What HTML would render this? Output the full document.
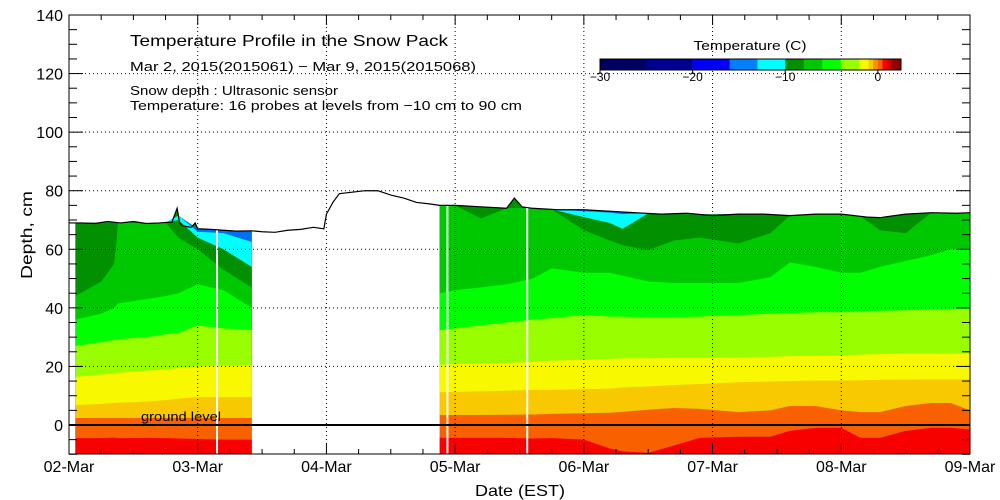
<!DOCTYPE html>
<html><head><meta charset="utf-8"><style>
html,body{margin:0;padding:0;background:#fff;}
svg{display:block;font-family:"Liberation Sans","DejaVu Sans",sans-serif;}
</style></head><body>
<svg id="chart" width="1000" height="500" viewBox="0 0 1000 500" xmlns="http://www.w3.org/2000/svg">
<g id="plot"></g>
<g id="axes"></g>
<text x="130" y="46" font-size="16" textLength="318" lengthAdjust="spacingAndGlyphs">Temperature Profile in the Snow Pack</text>
<text x="130" y="71" font-size="13" textLength="346" lengthAdjust="spacingAndGlyphs">Mar  2, 2015(2015061) − Mar  9, 2015(2015068)</text>
<text x="130" y="95" font-size="13" textLength="208" lengthAdjust="spacingAndGlyphs">Snow depth : Ultrasonic sensor</text>
<text x="130" y="110" font-size="13" textLength="392" lengthAdjust="spacingAndGlyphs">Temperature: 16 probes at levels from −10 cm to 90 cm</text>
<text x="32" y="235" font-size="16" text-anchor="middle" transform="rotate(-90 32 235)" textLength="88" lengthAdjust="spacingAndGlyphs">Depth, cm</text>
<text x="520" y="496" font-size="16" text-anchor="middle" textLength="90" lengthAdjust="spacingAndGlyphs">Date (EST)</text>
<text x="141" y="421" font-size="13" textLength="80" lengthAdjust="spacingAndGlyphs">ground level</text>
<g id="cbar"></g>
</svg>
<script>
// ---- data ----
const dayLabels = ["02-Mar","03-Mar","04-Mar","05-Mar","06-Mar","07-Mar","08-Mar","09-Mar"];
const yTicks = [140,120,100,80,60,40,20,0];
const surfT = [0,0.1,0.2,0.3,0.4,0.5,0.6,0.7,0.8,0.84,0.86,0.88,0.95,0.98,1.0,1.1,1.2,1.3,1.42,1.5,1.6,1.7,1.8,1.9,1.98,2.0,2.05,2.1,2.2,2.3,2.4,2.5,2.6,2.7,2.8,2.88,3.0,3.2,3.4,3.46,3.49,3.52,3.6,3.8,4.0,4.2,4.4,4.6,4.8,5.0,5.2,5.4,5.6,5.8,6.0,6.2,6.3,6.5,6.7,6.9,7.0];
const surfV = [69,69,68.8,69.5,69,69.5,68.8,69,69.3,74,69,68,67.5,69,67,66.8,66.5,66.2,66.3,66,65.8,66.5,66.8,67.5,67,72,76,79,79.5,80,80,78.5,77.5,76,75.5,75,75,74.5,74,77.5,76,74.5,74,73.5,73.5,73,72.5,72,72.3,71.5,72,72,71.5,72,72,71,70.8,72,72.5,72.3,72.5];
const segT = [
 [0.05,0.25,0.35,0.37,0.38,0.6,0.75,0.85,1.0,1.2,1.42],
 [2.88,3.0,3.2,3.4,3.6,3.75,4.0,4.2,4.3,4.5,4.7,4.9,5.2,5.45,5.6,5.8,6.0,6.15,6.3,6.5,6.7,6.85,7.0]
];
const bandColors = ["#0070f0","#00ffff","#009000","#00c800","#00ff00","#99ff00","#f8f800","#f8c800","#f86000","#f80000"];
const blueTop = [[99,99,99,99,99,99,99,99,99,99,99],[99,99,99,99,99,99,99,99,99,99,99,99,99,99,99,99,99,99,99,99,99,99,99]];
const cyanTop = [[99,99,99,99,99,99,99,99,66,65.5,62.5],[99,99,99,99,99,99,73,72.5,72,99,99,99,99,99,99,99,99,99,99,99,99,99,99]];
const dgreenTop = [[99,99,99,99,99,99,99,70,64,60,54],[99,99,99,99,99,99,71,69,67,99,99,99,99,99,99,99,99,99,99,99,99,99,99]];
const mgreenTop = [[44,49,55,63,99,99,99,64,60,53,47],[99,99,70.5,99,99,99,66.5,63,61.4,59.7,63,64,62,65.5,99,99,99,99,66.5,65.5,99,99,99]];
const greenTop = [[36,38,40,41,41.5,43,44,45,48,46,40],[45,46,47,48,50,53.5,52,52,51,49,48.5,48.5,48.5,50.5,55.5,54,52,52,54,56,58,60,60]];
const limeTop = [[27,28.3,29,29.2,29.3,30,31,31.4,34,33,32.4],[32.4,33,34,35,36,36.5,37.5,37,37,36.8,36.8,37,37.5,38,38.2,38.5,38.5,38.7,39,39.2,39.5,39.6,39.6]];
const yellowTop = [[16.4,17.2,17.7,17.8,17.9,18.5,19,19.5,20,20.3,20.5],[20.5,20.8,21,21.2,21.5,22,22.3,22.5,22.8,22.8,23,23,23.2,23.3,23.5,23.6,23.8,24,24.2,24.4,24.4,24.4,24.4]];
const orangeYTop = [[6.8,7.2,7.5,7.6,7.6,8,8.5,9,9.5,9.5,9.5],[11.2,11.3,11.5,11.7,12,12,12.2,12.4,12.8,13.2,13.6,14,14.6,14.8,15,15.2,15.2,15.3,15.4,15.5,15.6,15.6,15.6]];
const orangeTop = [[2.4,2.4,2.4,2.4,2.4,2.4,2.4,2.4,2.4,2.4,2.4],[3.4,3.4,3.4,3.5,3.6,3.8,4,4.2,4.5,5.2,5.8,5.5,4.4,5,6.5,6.5,5,4.4,4.4,6.5,7.5,7.5,5]];
const redTop = [[-4.5,-4.5,-4.3,-4.4,-4.5,-4.4,-4.5,-4.6,-4.8,-5,-5],[-4.4,-4.4,-4.4,-4.4,-4.6,-4.5,-5,-8,-9,-9.5,-7,-4.4,-4,-4,-2,-1,-1,-4.4,-4.4,-2,-1,-1,-1.5]];
const bands = [blueTop,cyanTop,dgreenTop,mgreenTop,greenTop,limeTop,yellowTop,orangeYTop,orangeTop,redTop];
const gapDays = [1.15,2.94,3.56];
const cbBounds = [-30,-25,-20,-16,-13,-10,-8,-6,-4,-2,-1,-0.5,0,0.5,1,1.5,2.5];
const cbColors = ["#000060","#000090","#0000f8","#0080ff","#00ffff","#009000","#00c800","#00ff00","#99ff00","#f8f800","#f8c800","#f89000","#f86000","#f80000","#c80000","#900000"];
const cbTicks = [-30,-20,-10,0];

// ---- scales ----
const X0=69,X1=970,Y0=15,Y1=454;
const xs = d => X0 + d*(X1-X0)/7;
const ys = v => 425 - v*(410/140);
const NS="http://www.w3.org/2000/svg";
function mk(tag, parent, attrs){const e=document.createElementNS(NS,tag);for(const k in attrs)e.setAttribute(k,attrs[k]);parent.appendChild(e);return e;}
function surfAt(t){for(let i=1;i<surfT.length;i++){if(t<=surfT[i]){const f=(t-surfT[i-1])/(surfT[i]-surfT[i-1]);return surfV[i-1]+f*(surfV[i]-surfV[i-1]);}}return surfV[surfV.length-1];}
const plot=document.getElementById('plot');

segT.forEach((ts,si)=>{
  const t0=ts[0],t1=ts[ts.length-1];
  let pts=[[xs(t0),ys(-10)],[xs(t0),ys(surfAt(t0))]];
  surfT.forEach((t,i)=>{if(t>t0&&t<t1)pts.push([xs(t),ys(surfV[i])]);});
  pts.push([xs(t1),ys(surfAt(t1))],[xs(t1),ys(-10)]);
  const base=mk('polygon',plot,{points:pts.map(p=>p.join(',')).join(' '),fill:'#009000'});
  
  
  bands.forEach((b,bi)=>{
    const vals=b[si];
    let p=[[xs(t0),ys(-10)]];
    ts.forEach((t,i)=>{const s=surfAt(t);const v=Math.min(vals[i],s);p.push([xs(t),ys(v)]);});
    p.push([xs(t1),ys(-10)]);
    const poly=mk('polygon',plot,{points:p.map(q=>q.join(',')).join(' '),fill:bandColors[bi]});
    
    
  });
});
gapDays.forEach(d=>{
  const l=mk('line',plot,{x1:xs(d),x2:xs(d),y1:ys(surfAt(d)),y2:Y1,stroke:'#fff','stroke-width':2});
  
  
});
const sl=mk('polyline',plot,{points:surfT.map((t,i)=>xs(t)+','+ys(surfV[i])).join(' '),fill:'none',stroke:'#000','stroke-width':1.2});



const ax=document.getElementById('axes');
for(let d=1;d<7;d++){const g=mk('line',ax,{x1:xs(d),x2:xs(d),y1:Y0,y2:Y1,stroke:'#000','stroke-dasharray':'1,3'});}
for(let v=20;v<=120;v+=20){const g=mk('line',ax,{x1:X0,x2:X1,y1:ys(v),y2:ys(v),stroke:'#000','stroke-dasharray':'1,3'});}
const gl=mk('line',ax,{x1:X0,x2:X1,y1:ys(0),y2:ys(0),stroke:'#000','stroke-width':2});


const fr=mk('rect',ax,{x:X0,y:Y0,width:X1-X0,height:Y1-Y0,fill:'none',stroke:'#000'});


for(let v=-10;v<=140;v+=5){const len=(v%20===0)?14:8;
  mk('line',ax,{x1:X0,x2:X0+len,y1:ys(v),y2:ys(v),stroke:'#000'});
  mk('line',ax,{x1:X1,x2:X1-len,y1:ys(v),y2:ys(v),stroke:'#000'});}
for(let h=0;h<=28;h++){const d=h/4;const len=(h%4===0)?10:5;
  mk('line',ax,{x1:xs(d),x2:xs(d),y1:Y1,y2:Y1-len,stroke:'#000'});
  mk('line',ax,{x1:xs(d),x2:xs(d),y1:Y0,y2:Y0+len,stroke:'#000'});}
yTicks.forEach(v=>{const t=mk('text',ax,{x:X0-6,y:ys(v)+6,'font-size':16,'text-anchor':'end'});t.textContent=v;});
dayLabels.forEach((s,i)=>{const t=mk('text',ax,{x:xs(i),y:472,'font-size':16,'text-anchor':'middle'});t.textContent=s;});

const cb=document.getElementById('cbar');
const cx=v=>600+(v+30)*(301/32.5);
const ct=mk('text',cb,{x:750,y:50,'font-size':13,'text-anchor':'middle',textLength:113,lengthAdjust:'spacingAndGlyphs'});ct.textContent='Temperature (C)';


cbColors.forEach((c,i)=>{const r=mk('rect',cb,{x:cx(cbBounds[i]),y:59,width:cx(cbBounds[i+1])-cx(cbBounds[i])+0.3,height:11,fill:c});});
mk('rect',cb,{x:600,y:59,width:301,height:11,fill:'none',stroke:'#000'});
cbTicks.forEach(v=>{mk('line',cb,{x1:cx(v),x2:cx(v),y1:70,y2:74,stroke:'#000'});const t=mk('text',cb,{x:cx(v),y:81,'font-size':12,'text-anchor':'middle'});t.textContent=(v<0?'−'+(-v):v);});
</script>
</body></html>
